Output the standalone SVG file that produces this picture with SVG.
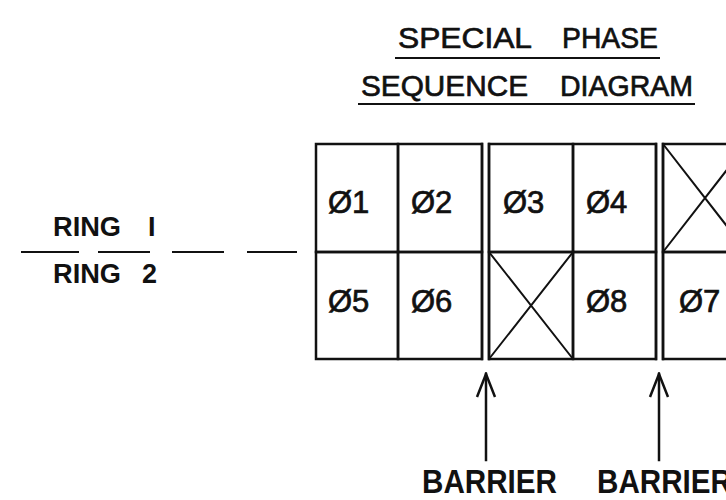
<svg xmlns="http://www.w3.org/2000/svg" width="726" height="500" viewBox="0 0 726 500">
  <defs>
    <style>
      .ln { stroke: #111; stroke-width: 2.5; fill: none; stroke-linecap: square; }
      .thin { stroke: #111; stroke-width: 2; fill: none; }
      .ph { font-family: "Liberation Sans", Arial, sans-serif; font-size: 31px; fill: #111; stroke: #111; stroke-width: 0.7; }
      .title { font-family: "Liberation Sans", Arial, sans-serif; font-size: 30px; fill: #111; stroke: #111; stroke-width: 0.7; }
      .lbl { font-family: "Liberation Sans", Arial, sans-serif; font-weight: bold; font-size: 27px; fill: #111; }
      .bar { font-family: "Liberation Sans", Arial, sans-serif; font-weight: bold; font-size: 34px; fill: #111; }
    </style>
    <!-- open arrowhead drawn along +x, tip at the line end -->
    <marker id="head" viewBox="0 0 26 22" refX="24" refY="11" markerWidth="26" markerHeight="22" markerUnits="userSpaceOnUse" orient="auto">
      <path d="M1,2 L24,11 L1,20" fill="none" stroke="#111" stroke-width="2.5"/>
    </marker>
  </defs>
  <rect width="726" height="500" fill="#fff"/>

  <!-- heading -->
  <g id="title">
    <text class="title" x="398" y="48" textLength="134" lengthAdjust="spacingAndGlyphs">SPECIAL</text>
    <text class="title" x="562" y="48" textLength="96" lengthAdjust="spacingAndGlyphs">PHASE</text>
    <line class="thin" x1="395" y1="58" x2="660" y2="58"/>
    <text class="title" x="361" y="96" textLength="167" lengthAdjust="spacingAndGlyphs">SEQUENCE</text>
    <text class="title" x="560" y="96" textLength="133" lengthAdjust="spacingAndGlyphs">DIAGRAM</text>
    <line class="thin" x1="358" y1="104" x2="695" y2="104"/>
  </g>

  <!-- ring labels with dashed divider -->
  <g id="ring-labels">
    <text class="lbl" x="53" y="236" textLength="68" lengthAdjust="spacingAndGlyphs">RING</text>
    <text class="lbl" x="148" y="236">I</text>
    <path class="thin" d="M21,252 H79 M98,252 H150 M172,252 H224 M247,252 H297"/>
    <text class="lbl" x="53" y="283" textLength="68" lengthAdjust="spacingAndGlyphs">RING</text>
    <text class="lbl" x="142" y="283">2</text>
  </g>

  <!-- ring 1 -->
  <g id="p1">
    <rect class="ln" x="316" y="144" width="82" height="108"/>
    <text class="ph" x="328" y="213">Ø1</text>
  </g>
  <g id="p2">
    <rect class="ln" x="398" y="144" width="84" height="108"/>
    <text class="ph" x="411" y="213">Ø2</text>
  </g>
  <g id="p3">
    <rect class="ln" x="489" y="144" width="84" height="108"/>
    <text class="ph" x="503" y="213">Ø3</text>
  </g>
  <g id="p4">
    <rect class="ln" x="573" y="144" width="83" height="108"/>
    <text class="ph" x="586" y="213">Ø4</text>
  </g>
  <g id="r1-empty">
    <rect class="ln" x="663" y="144" width="84" height="108"/>
    <path class="thin" d="M663,144 L747,252 M747,144 L663,252"/>
  </g>

  <!-- ring 2 -->
  <g id="p5">
    <rect class="ln" x="316" y="252" width="82" height="107"/>
    <text class="ph" x="328" y="312">Ø5</text>
  </g>
  <g id="p6">
    <rect class="ln" x="398" y="252" width="84" height="107"/>
    <text class="ph" x="411" y="312">Ø6</text>
  </g>
  <g id="r2-empty">
    <rect class="ln" x="489" y="252" width="84" height="107"/>
    <path class="thin" d="M489,252 L573,359 M573,252 L489,359"/>
  </g>
  <g id="p8">
    <rect class="ln" x="573" y="252" width="83" height="107"/>
    <text class="ph" x="586" y="312">Ø8</text>
  </g>
  <g id="p7">
    <rect class="ln" x="663" y="252" width="84" height="107"/>
    <text class="ph" x="679" y="312">Ø7</text>
  </g>

  <!-- barriers -->
  <g id="barrier-1">
    <line class="ln" x1="482" y1="144" x2="482" y2="359"/>
    <line class="ln" x1="489" y1="144" x2="489" y2="359"/>
    <text class="bar" x="422" y="493" textLength="135" lengthAdjust="spacingAndGlyphs">BARRIER</text>
  </g>
  <g id="barrier-2">
    <line class="ln" x1="656" y1="144" x2="656" y2="359"/>
    <line class="ln" x1="663" y1="144" x2="663" y2="359"/>
    <text class="bar" x="597" y="493" textLength="135" lengthAdjust="spacingAndGlyphs">BARRIER</text>
  </g>

  <!-- barrier pointers -->
  <g id="connectors">
    <line class="ln" x1="486" y1="460" x2="486" y2="374" marker-end="url(#head)"/>
    <line class="ln" x1="659" y1="460" x2="659" y2="374" marker-end="url(#head)"/>
  </g>
</svg>
